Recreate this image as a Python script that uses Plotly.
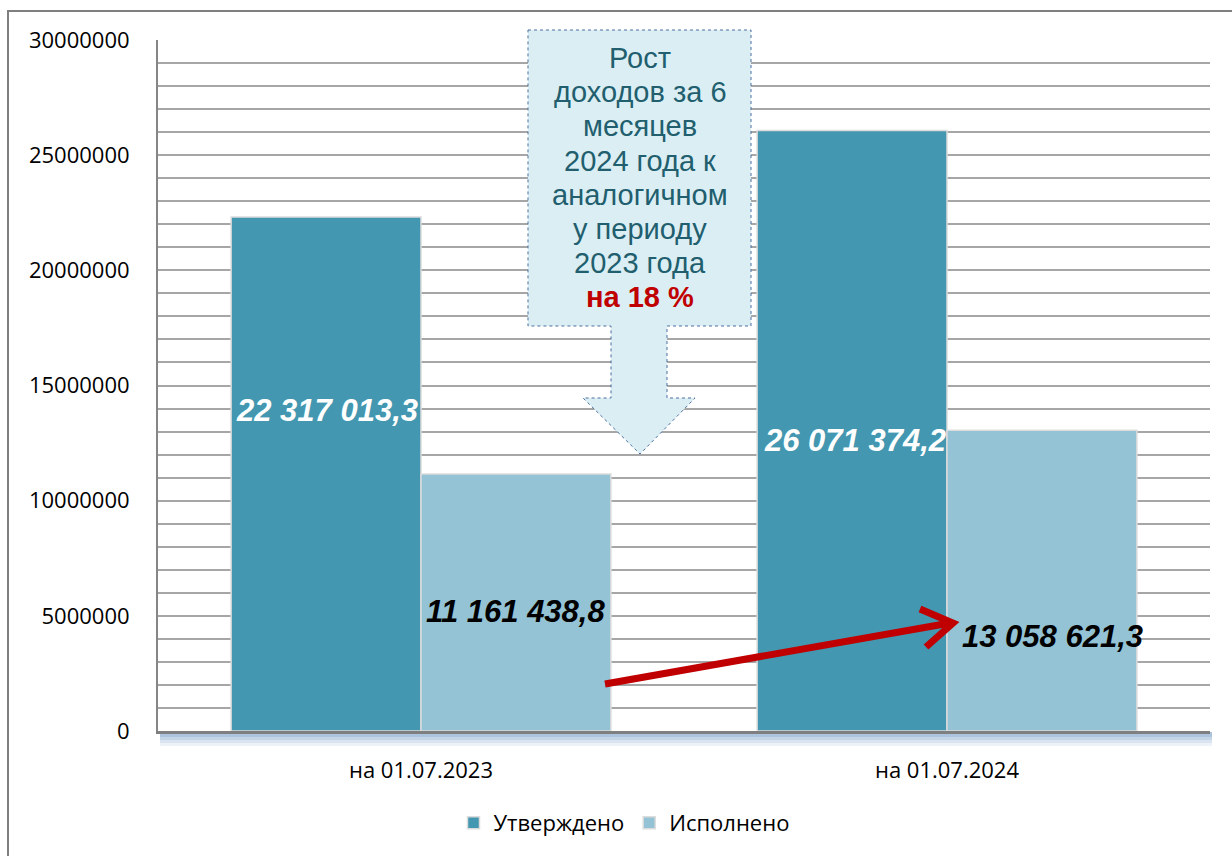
import plotly.graph_objects as go

categories = ["на 01.07.2023", "на 01.07.2024"]
approved = [22317013.3, 26071374.2]
executed = [11161438.8, 13058621.3]
approved_labels = ["22 317 013,3", "26 071 374,2"]
executed_labels = ["11 161 438,8", "13 058 621,3"]
series_names = ["Утверждено", "Исполнено"]
callout_text = ["Рост", "доходов за 6", "месяцев", "2024 года к", "аналогичном", "у периоду", "2023 года"]
callout_highlight = "на 18 %"

W, H = 1232, 856
L, R, T, B = 158, 1210, 40, 731

def px(x):
    return (x - L) / (R - L)

def py(y):
    return (B - y) / (B - T)

def path(points, close=False):
    s = "M " + " L ".join(f"{px(x):.5f},{py(y):.5f}" for x, y in points)
    return s + (" Z" if close else "")

fig = go.Figure()
fig.add_trace(go.Bar(x=categories, y=approved, name=series_names[0],
                     marker=dict(color="#4397B0", line=dict(color="#DCDCDC", width=1.5))))
fig.add_trace(go.Bar(x=categories, y=executed, name=series_names[1],
                     marker=dict(color="#93C3D5", line=dict(color="#DCDCDC", width=1.5))))

shapes = []
# outer frame
shapes.append(dict(type="rect", xref="paper", yref="paper",
                   x0=px(8), x1=px(1260), y0=py(11), y1=py(880),
                   line=dict(color="#7F7F7F", width=2), fillcolor="rgba(0,0,0,0)", layer="below"))
# shadow under x axis
for i, a in enumerate([0.10, 0.12, 0.15, 0.2]):
    shapes.append(dict(type="rect", xref="paper", yref="paper",
                       x0=px(160), x1=px(1212), y0=py(732), y1=py(746 - i * 3),
                       line=dict(width=0), fillcolor=f"rgba(79,129,189,{a})", layer="below"))
# callout box with arrow
shapes.append(dict(type="path", xref="paper", yref="paper",
                   path=path([(528, 30), (751, 30), (751, 326), (667, 326), (667, 398), (695, 398),
                              (640, 454), (583, 398), (611, 398), (611, 326), (528, 326)], close=True),
                   fillcolor="#DBEEF4", line=dict(color="#4A6FA0", width=1, dash="dot"), layer="above"))
# red arrow
shapes.append(dict(type="path", xref="paper", yref="paper",
                   path=path([(605, 684), (950, 623)]),
                   line=dict(color="#C00000", width=7), layer="above"))
shapes.append(dict(type="path", xref="paper", yref="paper",
                   path=path([(920, 609), (953, 623), (926, 647)]),
                   line=dict(color="#C00000", width=7), layer="above"))

annotations = []
lab_font = dict(family="Liberation Sans, Arial", size=31)
ann_pos_a = [(-0.179, 13.9e6), (0.825, 12.6e6)]
ann_pos_e = [(0.18, 5.17e6), (1.2, 4.12e6)]
for (x, y), t in zip(ann_pos_a, approved_labels):
    annotations.append(dict(x=x, y=y, xref="x", yref="y", text=f"<b><i>{t}</i></b>", showarrow=False,
                            font=dict(color="white", **lab_font)))
for (x, y), t in zip(ann_pos_e, executed_labels):
    annotations.append(dict(x=x, y=y, xref="x", yref="y", text=f"<b><i>{t}</i></b>", showarrow=False,
                            font=dict(color="black", **lab_font)))
lines = callout_text + [f"<b><span style='color:#C00000'>{callout_highlight}</span></b>"]
for i, t in enumerate(lines):
    annotations.append(dict(x=px(640), y=py(58 + i * 34.2), xref="paper", yref="paper", text=t,
                            showarrow=False, xanchor="center", yanchor="middle", align="center",
                            font=dict(family="Liberation Sans, Arial", size=29, color="#215E6E")))

fig.update_layout(
    width=W, height=H,
    margin=dict(l=L, r=W - R, t=T, b=H - B),
    paper_bgcolor="white", plot_bgcolor="white",
    barmode="group", bargap=0.278, bargroupgap=0.0,
    font=dict(family="Open Sans", size=22, color="black"),
    shapes=shapes, annotations=annotations,
    showlegend=True,
    legend=dict(orientation="h", x=px(624), y=py(823), xanchor="center", yanchor="middle",
                font=dict(family="Open Sans", size=22), itemwidth=30, traceorder="normal"),
    xaxis=dict(showgrid=False, showline=True, linecolor="#7F7F7F", linewidth=3,
               ticks="", ticklabelstandoff=18, tickfont=dict(size=22)),
    yaxis=dict(range=[0, 30e6], dtick=5e6, tickformat=".0f", showgrid=True, gridcolor="#A6A6A6",
               gridwidth=2, showline=True, linecolor="#868686", linewidth=2, zeroline=False,
               ticks="", ticklabelstandoff=22, tickfont=dict(size=22),
               minor=dict(dtick=1e6, showgrid=True, gridcolor="#A6A6A6", gridwidth=2)),
)

fig.write_html("out.html")
